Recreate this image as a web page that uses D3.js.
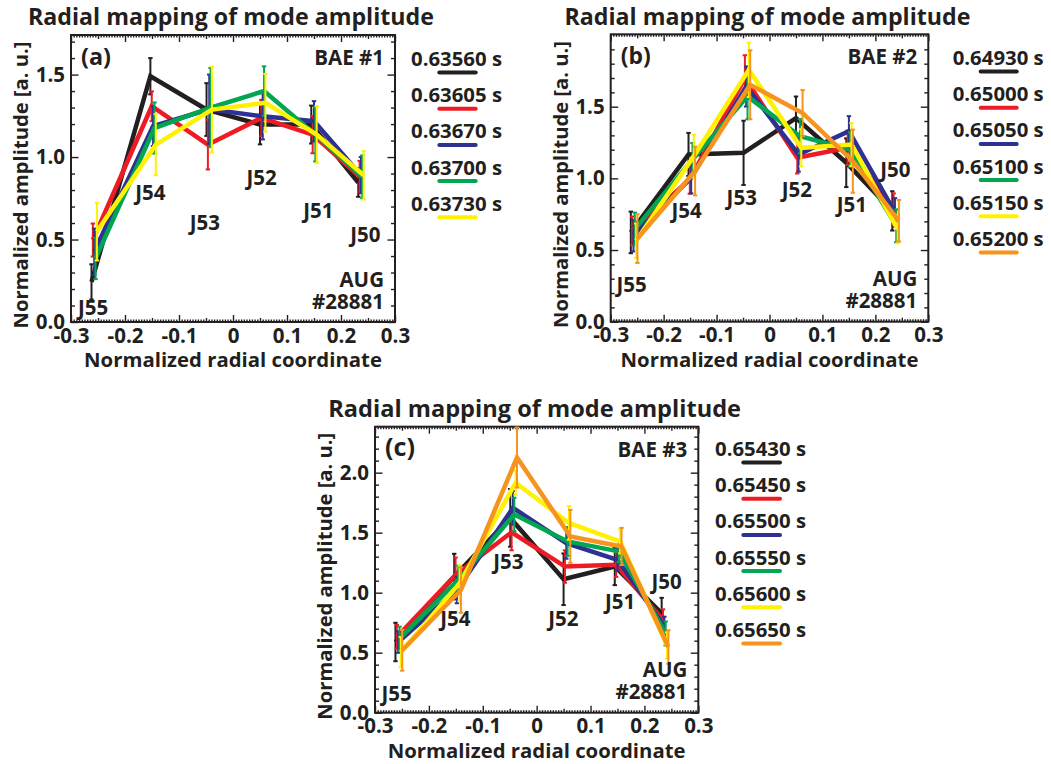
<!DOCTYPE html>
<html><head><meta charset="utf-8">
<script src="https://cdn.jsdelivr.net/npm/d3@7"></script>
<style>
body{margin:0;background:#fff;}
svg text{font-family:"Open Sans","Noto Sans",sans-serif;font-weight:700;fill:#231f20;}
</style></head><body>
<svg id="chart" width="1051" height="764"></svg>
<script>
// ---------------- data ----------------
const seriesColors = ["#231f20","#ed1c24","#2e3192","#00a651","#fff200","#f7941d"];
const channels = ["J55","J54","J53","J52","J51","J50"];
const radialPositions = [-0.262,-0.153,-0.049,0.05,0.145,0.232];
const seriesShift = [0,0.0025,0.005,0.0075,0.01,0.0125];
const xTickValues = [-0.3,-0.2,-0.1,0,0.1,0.2,0.3];
const xTickLabels = ["-0.3","-0.2","-0.1","0","0.1","0.2","0.3"];
const yTickValuesAB = [0,0.5,1.0,1.5];
const yTickValuesC = [0,0.5,1.0,1.5,2.0];
const yTickLabels = ["0.0","0.5","1.0","1.5","2.0"];

// Panel (a) BAE #1
const timesA = ["0.63560 s","0.63605 s","0.63670 s","0.63700 s","0.63730 s"];
const ampA = [
  [0.243,1.49,1.288,1.197,1.197,0.846],
  [0.497,1.308,1.075,1.237,1.136,0.882],
  [0.426,1.187,1.29,1.247,1.217,0.89],
  [0.385,1.176,1.30,1.40,1.136,0.88],
  [0.548,1.075,1.288,1.329,1.136,0.89]
];
const errA = [
  [0.107,0.11,0.16,0.12,0.115,0.087],
  [0.10,0.09,0.15,0.11,0.113,0.095],
  [0.14,0.12,0.21,0.14,0.122,0.11],
  [0.125,0.155,0.24,0.15,0.163,0.13],
  [0.175,0.185,0.26,0.175,0.173,0.147]
];
const labelPosA = [[-0.287,0.042],[-0.181,0.739],[-0.080,0.558],[0.025,0.830],[0.130,0.628],[0.217,0.487]];

// Panel (b) BAE #2
const timesB = ["0.64930 s","0.65000 s","0.65050 s","0.65100 s","0.65150 s","0.65200 s"];
const ampB = [
  [0.623,1.167,1.178,1.421,1.109,0.773],
  [0.634,0.993,1.699,1.144,1.213,0.785],
  [0.60,1.005,1.641,1.167,1.329,0.762],
  [0.646,1.132,1.572,1.294,1.20,0.669],
  [0.565,1.155,1.757,1.213,1.236,0.646],
  [0.58,1.051,1.653,1.456,1.12,0.704]
];
const errB = [
  [0.145,0.15,0.224,0.15,0.17,0.137],
  [0.10,0.10,0.16,0.11,0.12,0.11],
  [0.11,0.11,0.14,0.12,0.105,0.10],
  [0.115,0.115,0.16,0.12,0.12,0.115],
  [0.12,0.15,0.19,0.13,0.15,0.10],
  [0.17,0.17,0.24,0.16,0.22,0.145]
];
const labelPosB = [[-0.289,0.209],[-0.185,0.722],[-0.081,0.814],[0.023,0.872],[0.127,0.768],[0.209,1.012]];

// Panel (c) BAE #3
const timesC = ["0.65430 s","0.65450 s","0.65500 s","0.65550 s","0.65600 s","0.65650 s"];
const ampC = [
  [0.589,1.134,1.623,1.112,1.218,0.827],
  [0.631,1.148,1.503,1.218,1.232,0.771],
  [0.589,1.022,1.707,1.413,1.274,0.72],
  [0.617,1.106,1.651,1.427,1.344,0.66],
  [0.505,1.078,1.916,1.581,1.427,0.56],
  [0.52,1.022,2.126,1.469,1.385,0.547]
];
const errC = [
  [0.16,0.19,0.24,0.215,0.155,0.13],
  [0.10,0.145,0.15,0.135,0.10,0.09],
  [0.09,0.11,0.14,0.13,0.09,0.08],
  [0.10,0.12,0.14,0.12,0.09,0.10],
  [0.125,0.15,0.10,0.14,0.10,0.11],
  [0.17,0.19,0.25,0.22,0.155,0.14]
];
const labelPosC = [[-0.288,0.097],[-0.179,0.722],[-0.0805,1.194],[0.0216,0.722],[0.127,0.861],[0.213,1.028]];

// ---------------- layout ----------------
const panels = [
  {tag:"(a)", bae:"BAE #1", l:71, r:395, t:35, b:322, yMax:1.74, yTicks:yTickValuesAB,
   times:timesA, amp:ampA, err:errA, labelPos:labelPosA,
   titleY:25, titleW:406, legX:411, legY:66, legLineX:[439.3,475.7]},
  {tag:"(b)", bae:"BAE #2", l:610.7, r:928.3, t:34.3, b:321.7, yMax:2.005, yTicks:yTickValuesAB,
   times:timesB, amp:ampB, err:errB, labelPos:labelPosB,
   titleY:25, titleW:406, legX:952.7, legY:65, legLineX:[980.7,1016.7]},
  {tag:"(c)", bae:"BAE #3", l:375, r:698.3, t:426.7, b:712.7, yMax:2.383, yTicks:yTickValuesC,
   times:timesC, amp:ampC, err:errC, labelPos:labelPosC,
   titleY:416.7, titleW:413, legX:715, legY:456, legLineX:[743.3,780]}
];
const legStep = 36.2;

const svg = d3.select("#chart");

// calibrate the installed font against the reference text size
const probe = svg.append("text").attr("font-size",20).text("#28881");
const fsBase = 20 * 72 / probe.node().getComputedTextLength();
probe.remove();

function fitWidth(sel, w){
  const n = sel.node();
  const fs = parseFloat(sel.attr("font-size"));
  const len = n.getComputedTextLength();
  if (len > 0) sel.attr("font-size", (fs * w / len).toFixed(2));
  return sel;
}

panels.forEach(p => {
  const g = svg.append("g");
  const x = d3.scaleLinear().domain([-0.3,0.3]).range([p.l,p.r]);
  const y = d3.scaleLinear().domain([0,p.yMax]).range([p.b,p.t]);
  const cx = (p.l+p.r)/2, cy = (p.t+p.b)/2;

  // title
  const tt = g.append("text").attr("x",cx-2).attr("y",p.titleY).attr("text-anchor","middle")
    .attr("font-size",21).text("Radial mapping of mode amplitude");
  fitWidth(tt, p.titleW);

  // ticks (inward on all sides)
  const xMinor = d3.range(-60,61).map(i=>i*0.005).filter(v=>Math.abs(Math.round(v*20)-v*20)>1e-6);
  const xMid = [-0.25,-0.15,-0.05,0.05,0.15,0.25];
  const yMinor = d3.range(0, Math.floor(p.yMax*10+1e-6)+1).map(i=>i*0.1).filter(v=>Math.abs(Math.round(v*2)-v*2)>1e-6);

  function tickLayer(axisGen, transform, values, size){
    const a = g.append("g").attr("transform",transform)
      .call(axisGen.tickValues(values).tickSize(-size).tickFormat(""));
    a.select(".domain").remove();
    a.selectAll("line").attr("stroke","#231f20").attr("stroke-width",1.4);
    a.selectAll("text").remove();
    return a;
  }
  tickLayer(d3.axisBottom(x),`translate(0,${p.b})`,xMinor,2.5);
  tickLayer(d3.axisTop(x),`translate(0,${p.t})`,xMinor,2.5);
  tickLayer(d3.axisBottom(x),`translate(0,${p.b})`,xMid,4);
  tickLayer(d3.axisTop(x),`translate(0,${p.t})`,xMid,4);
  tickLayer(d3.axisTop(x),`translate(0,${p.t})`,xTickValues,7);
  tickLayer(d3.axisLeft(y),`translate(${p.l},0)`,yMinor,4);
  tickLayer(d3.axisRight(y),`translate(${p.r},0)`,yMinor,4);
  tickLayer(d3.axisRight(y),`translate(${p.r},0)`,p.yTicks,7.5);

  // labelled axes
  const xa = g.append("g").attr("transform",`translate(0,${p.b})`)
    .call(d3.axisBottom(x).tickValues(xTickValues).tickSize(-7).tickPadding(6)
      .tickFormat((d,i)=>xTickLabels[i]));
  const ya = g.append("g").attr("transform",`translate(${p.l},0)`)
    .call(d3.axisLeft(y).tickValues(p.yTicks).tickSize(-7.5).tickPadding(6)
      .tickFormat((d,i)=>yTickLabels[i]));
  [xa,ya].forEach(a=>{
    a.select(".domain").remove();
    a.selectAll("line").attr("stroke","#231f20").attr("stroke-width",1.4);
    a.selectAll("text").attr("font-family",null).attr("font-size",fsBase).attr("fill","#231f20");
  });

  // frame
  g.append("rect").attr("x",p.l).attr("y",p.t).attr("width",p.r-p.l).attr("height",p.b-p.t)
    .attr("fill","none").attr("stroke","#231f20").attr("stroke-width",2);

  // axis titles
  const xt = g.append("text").attr("x",cx).attr("y",p.b+45).attr("text-anchor","middle")
    .attr("font-size",20).text("Normalized radial coordinate");
  fitWidth(xt, 298);
  const yt = g.append("text").attr("transform",`translate(${p.l-43},${cy+6.5}) rotate(-90)`)
    .attr("text-anchor","middle").attr("font-size",20).text("Normalized amplitude [a. u.]");
  fitWidth(yt, 287);

  // series
  const line = d3.line().x(d=>x(d.x)).y(d=>y(d.v));
  p.amp.forEach((vals,s)=>{
    const pts = vals.map((v,i)=>({x:radialPositions[i]+seriesShift[s], v:v, e:p.err[s][i]}));
    const col = seriesColors[s];
    g.append("path").datum(pts).attr("d",line).attr("fill","none")
      .attr("stroke",col).attr("stroke-width",4.5);
    const eb = g.append("g").attr("stroke",col).attr("stroke-width",2);
    eb.selectAll("line.v").data(pts).join("line")
      .attr("x1",d=>x(d.x)).attr("x2",d=>x(d.x)).attr("y1",d=>y(d.v-d.e)).attr("y2",d=>y(d.v+d.e));
    eb.selectAll("line.top").data(pts).join("line")
      .attr("x1",d=>x(d.x)-2.2).attr("x2",d=>x(d.x)+2.2).attr("y1",d=>y(d.v+d.e)).attr("y2",d=>y(d.v+d.e));
    eb.selectAll("line.bot").data(pts).join("line")
      .attr("x1",d=>x(d.x)-2.2).attr("x2",d=>x(d.x)+2.2).attr("y1",d=>y(d.v-d.e)).attr("y2",d=>y(d.v-d.e));
  });

  // channel labels
  g.selectAll("text.ch").data(channels).join("text").attr("class","ch")
    .attr("x",(d,i)=>x(p.labelPos[i][0])).attr("y",(d,i)=>y(p.labelPos[i][1]))
    .attr("font-size",fsBase).text(d=>d);

  // annotations
  const tg = g.append("text").attr("x",p.l+10).attr("y",p.t+29.5).attr("font-size",22).text(p.tag);
  fitWidth(tg, 30);
  g.append("text").attr("x",p.r-11).attr("y",p.t+30).attr("text-anchor","end").attr("font-size",fsBase).text(p.bae);
  const shot = g.append("text").attr("text-anchor","end").attr("font-size",fsBase);
  shot.append("tspan").attr("x",p.r-11).attr("y",p.b-35.5).text("AUG");
  shot.append("tspan").attr("x",p.r-11).attr("y",p.b-13.5).text("#28881");

  // legend
  p.times.forEach((t,s)=>{
    const ty = p.legY + s*legStep;
    const lt = g.append("text").attr("x",p.legX).attr("y",ty).attr("font-size",20).text(t);
    fitWidth(lt, 91);
    g.append("line").attr("x1",p.legLineX[0]).attr("x2",p.legLineX[1])
      .attr("y1",ty+6.5).attr("y2",ty+6.5).attr("stroke",seriesColors[s])
      .attr("stroke-width",4).attr("stroke-linecap","round");
  });
});
</script>
</body></html>
